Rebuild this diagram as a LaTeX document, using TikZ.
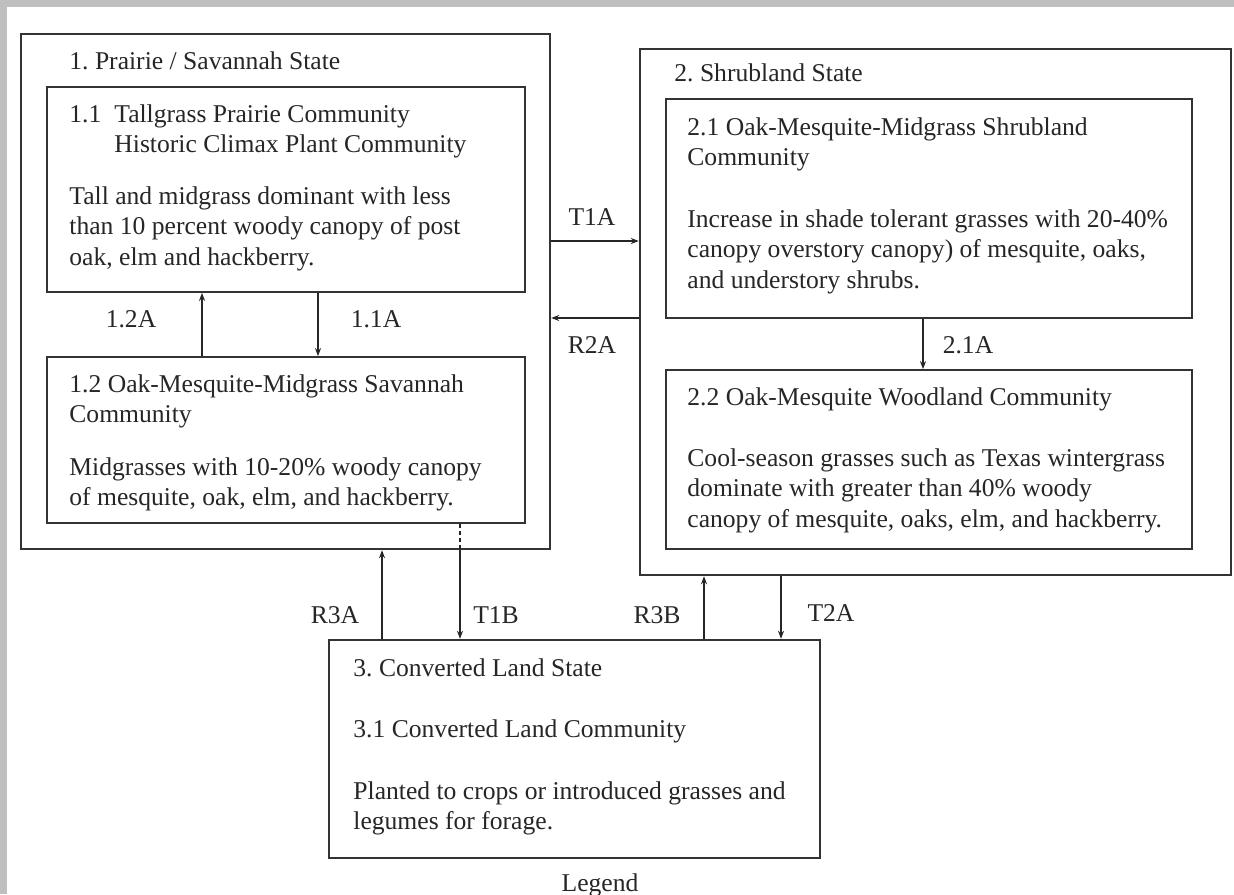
\documentclass[tikz,border=0pt]{standalone}
\usepackage{fontspec}
\setmainfont{Liberation Serif}
\usetikzlibrary{arrows.meta}
\usetikzlibrary{fit}
\frenchspacing
\newcommand{\lines}[1]{\begin{tabular}[t]{@{}l@{}}#1\end{tabular}}

\begin{document}
\begin{tikzpicture}[x=0.5pt,y=-0.5pt,>={Stealth[length=4pt,width=3pt]},
	every node/.style={font=\fontsize{12.8}{15.35}\selectfont,text=black!85,inner sep=0pt},
	statebox/.style={draw=black!80,line width=1.2pt,fit={#1}},
	commbox/.style={draw=black!80,line width=0.9pt,fit={#1}},
	txt/.style={anchor=base west},
	trans/.style={->,draw=black!85,line width=0.7pt}]
		\useasboundingbox (0,0) rectangle (1234,894);
		\fill[gray!50] (0,0) rectangle (1234,894);
		\fill[white] (7,7) rectangle (1234,894);

		\node[statebox={(21,34) (550,549)}] (st1) {};
		\node[commbox={(47,87) (525,292)}] (c11) {};
		\node[commbox={(47,357) (525,523)}] (c12) {};
		\node[statebox={(640,49) (1231,575)}] (st2) {};
		\node[commbox={(666,99) (1192,318)}] (c21) {};
		\node[commbox={(666,370) (1192,549)}] (c22) {};
		\node[statebox={(329,640) (820,858)}] (st3) {};

		\node[txt] (s1) at (69,69) {1. Prairie / Savannah State};
		\node[txt] (t11) at (69,122) {\lines{\makebox[22.5pt][l]{1.1}Tallgrass Prairie Community\\\hspace*{22.5pt}Historic Climax Plant Community}};
		\node[txt] (d11) at (69,204) {\lines{Tall and midgrass dominant with less\\than 10 percent woody canopy of post\\oak, elm and hackberry.}};
		\node[txt] (t12) at (69,392) {\lines{1.2 Oak-Mesquite-Midgrass Savannah\\Community}};
		\node[txt] (d12) at (69,475) {\lines{Midgrasses with 10-20\% woody canopy\\of mesquite, oak, elm, and hackberry.}};

		\node[txt] (s2) at (674,81) {2. Shrubland State};
		\node[txt] (t21) at (687,135) {\lines{2.1 Oak-Mesquite-Midgrass Shrubland\\Community}};
		\node[txt] (d21) at (687,227) {\lines{Increase in shade tolerant grasses with 20-40\%\\canopy overstory canopy) of mesquite, oaks,\\and understory shrubs.}};
		\node[txt] (t22) at (687,405) {2.2 Oak-Mesquite Woodland Community};
		\node[txt] (d22) at (687,466) {\lines{Cool-season grasses such as Texas wintergrass\\dominate with greater than 40\% woody\\canopy of mesquite, oaks, elm, and hackberry.}};

		\node[txt] (s3) at (353,676) {3. Converted Land State};
		\node[txt] (t31) at (353,737) {3.1 Converted Land Community};
		\node[txt] (d31) at (353,799) {\lines{Planted to crops or introduced grasses and\\legumes for forage.}};
		\node[anchor=base] (legend) at (600,891) {Legend};

		\coordinate (x12a) at (202,0);
		\coordinate (x11a) at (318,0);
		\coordinate (x21a) at (923,0);
		\coordinate (xr3a) at (382,0);
		\coordinate (xt1b) at (460,0);
		\coordinate (xr3b) at (704,0);
		\coordinate (xt2a) at (781,0);
		\coordinate (yt1a) at (0,241);
		\coordinate (yr2a) at (0,318);

		\draw[trans] (c12.north -| x12a) -- (c11.south -| x12a);
		\draw[trans] (c11.south -| x11a) -- (c12.north -| x11a);
		\draw[trans] (c21.south -| x21a) -- (c22.north -| x21a);
		\draw[trans] (st1.east |- yt1a) -- (st2.west |- yt1a);
		\draw[trans] (st2.west |- yr2a) -- (st1.east |- yr2a);
		\draw[trans] (st3.north -| xr3a) -- (st1.south -| xr3a);
		\draw[draw=black!85,line width=0.7pt,dash pattern=on 2pt off 1.5pt] (c12.south -| xt1b) -- (st1.south -| xt1b);
		\draw[trans] (st1.south -| xt1b) -- (st3.north -| xt1b);
		\draw[trans] (st3.north -| xr3b) -- (st2.south -| xr3b);
		\draw[trans] (st2.south -| xt2a) -- (st3.north -| xt2a);

		\node (l12a) at (131,319) {1.2A};
		\node (l11a) at (376,319) {1.1A};
		\node (l21a) at (968,345) {2.1A};
		\node (lt1a) at (592,217) {T1A};
		\node (lr2a) at (592,345) {R2A};
		\node (lr3a) at (335,615) {R3A};
		\node (lt1b) at (496,615) {T1B};
		\node (lr3b) at (657,615) {R3B};
		\node (lt2a) at (831,613) {T2A};
\end{tikzpicture}
\end{document}
